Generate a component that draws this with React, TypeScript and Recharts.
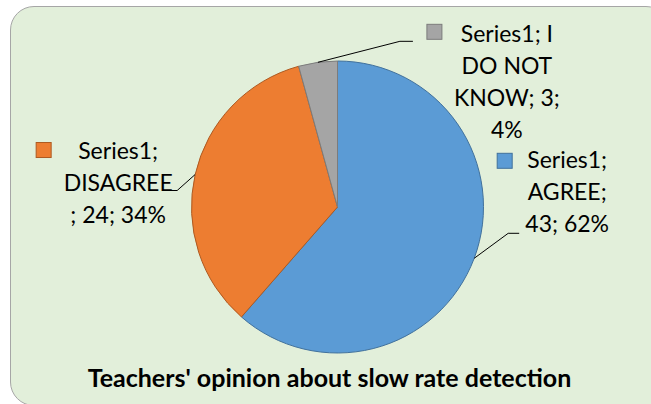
import { PieChart, Pie, Cell } from "recharts"

const seriesName = "Series1"
const categories = ["AGREE", "DISAGREE", "I DO NOT KNOW"]
const counts = [43, 24, 3]
// percentages exactly as printed on the chart
const percents = [62, 34, 4]
const title = "Teachers' opinion about slow rate detection"

const colors = ["#5B9BD5", "#ED7D31", "#A5A5A5"]
const strokes = ["#41719C", "#AE5A21", "#7C7C7C"]

const data = categories.map((name, i) => ({ name, value: counts[i], pct: percents[i] }))

// where each data label sits, relative to the end of its leader line
const labelLayout = [
  { elbow: [34, -25], tail: 11, breaks: [8, 15], tx: 48, ty: -65, sx: -22, sy: -80 },
  { elbow: [-18, 16], tail: -10, breaks: [8, 17], tx: -49, ty: -32, sx: -131, sy: -48 },
  { elbow: [82, -21], tail: 13, breaks: [10, 17, 26], tx: 94, ty: 1, sx: 14, sy: -17 },
]

const FONT = "Lato, 'Open Sans', sans-serif"
const RADIAN = Math.PI / 180

const splitAt = (s: string, breaks: number[]) => {
  const out: string[] = []
  let prev = 0
  breaks.forEach((b) => {
    out.push(s.slice(prev, b).trim())
    prev = b
  })
  out.push(s.slice(prev).trim())
  return out
}

const renderLabel = (props: any) => {
  const { cx, cy, midAngle, outerRadius, index } = props
  const d = data[index]
  const l = labelLayout[index]
  const ex = cx + outerRadius * Math.cos(-midAngle * RADIAN)
  const ey = cy + outerRadius * Math.sin(-midAngle * RADIAN)
  const bx = ex + l.elbow[0]
  const by = ey + l.elbow[1]
  const endX = bx + l.tail
  const lines = splitAt(`${seriesName}; ${d.name}; ${d.value}; ${d.pct}%`, l.breaks)
  return (
    <g key={`lbl-${index}`}>
      <polyline points={`${ex},${ey} ${bx},${by} ${endX},${by}`} fill="none" stroke="#000" strokeWidth={1} />
      <rect x={endX + l.sx} y={by + l.sy} width={15} height={15} fill={colors[index]} stroke={strokes[index]} strokeWidth={1} />
      <text textAnchor="middle" fontFamily={FONT} fontSize={23} fill="#000">
        {lines.map((s, j) => (
          <tspan key={j} x={endX + l.tx} y={by + l.ty + j * 32}>
            {s}
          </tspan>
        ))}
      </text>
    </g>
  )
}

export default function App() {
  return (
    <div style={{ position: "absolute", left: 0, top: 0, width: 651, height: 404, overflow: "hidden", background: "#fff" }}>
      <div
        style={{
          position: "absolute",
          left: 10,
          top: 6,
          width: 660,
          height: 400,
          border: "1.5px solid #A6A6A6",
          borderRadius: 24,
          background: "#E2EFDA",
          boxSizing: "border-box",
        }}
      />
      <div style={{ position: "absolute", left: 0, top: 0 }}>
        <PieChart width={651} height={404} margin={{ top: 0, right: 0, bottom: 0, left: 0 }}>
          <Pie
            data={data}
            dataKey="value"
            nameKey="name"
            cx={337.5}
            cy={207}
            outerRadius={146}
            startAngle={90}
            endAngle={-270}
            isAnimationActive={false}
            labelLine={false}
            label={renderLabel}
          >
            {data.map((entry, idx) => (
              <Cell key={`cell-${idx}`} fill={colors[idx]} stroke={strokes[idx]} strokeWidth={1} />
            ))}
          </Pie>
        </PieChart>
      </div>
      <svg width={651} height={404} style={{ position: "absolute", left: 0, top: 0, pointerEvents: "none" }}>
        <text x={329.5} y={387} textAnchor="middle" fontFamily={FONT} fontWeight="bold" fontSize={25} fill="#000">
          {title}
        </text>
      </svg>
    </div>
  )
}
